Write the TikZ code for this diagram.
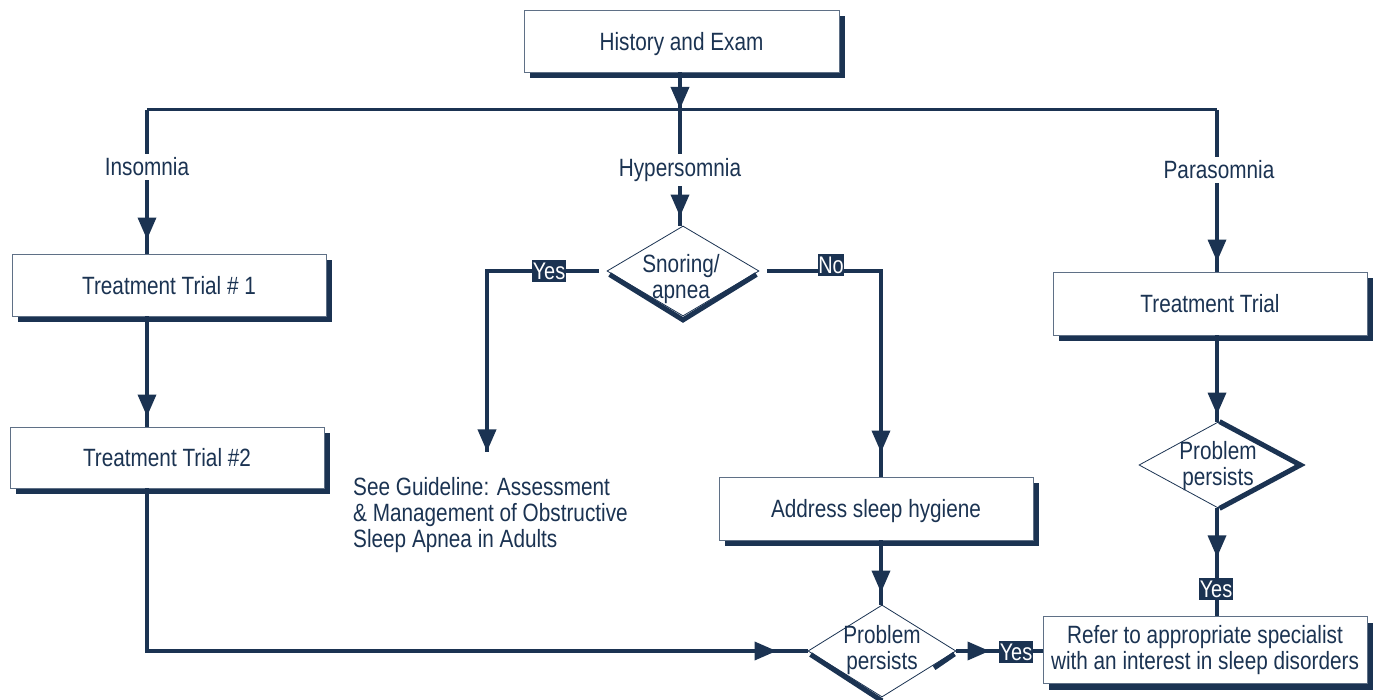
\documentclass[tikz,border=0pt]{standalone}
\usepackage{fontspec}
\setmainfont{Liberation Sans}[FakeStretch=0.83]
\usetikzlibrary{arrows.meta,decorations.markings,shapes.geometric,shadows,calc}
\definecolor{navy}{RGB}{27,51,82}
\begin{document}
\begin{tikzpicture}[x=1pt,y=-1pt,
  font=\fontsize{25}{26}\selectfont, text=navy,
  box/.style={draw=navy!70, line width=0.9pt, fill=white, minimum width=314pt,
    minimum height=62pt, inner sep=0pt, align=center,
    drop shadow={shadow xshift=6pt, shadow yshift=-6pt, fill=navy, opacity=1}},
  onel/.style={text height=21pt, text depth=2pt},
  dia/.style={diamond, draw=navy, line width=0.8pt, fill=white, inner sep=0pt},
  dtext/.style={align=center, inner sep=0pt},
  dshadow/.style={draw=navy, line width=5pt},
  conn/.style={draw=navy, color=navy, line width=3.5pt},
  tip/.style={postaction={decorate,decoration={markings,
    mark=at position #1 with {\arrow{Triangle[length=22pt,width=18pt]}}}}},
  lab/.style={fill=white, inner xsep=3pt, inner ysep=4pt},
  yn/.style={fill=navy, text=white, inner xsep=0.5pt, inner ysep=2.5pt,
    font=\fontsize{24}{24}\selectfont}
]
\fill[white] (0,0) rectangle (1377,700);
\useasboundingbox (0,0) rectangle (1377,700);

% boxes
\node[box, onel, minimum width=315pt] (hist) at (681.5,41) {History and Exam};
\node[box, onel] (tt1) at (169,285) {Treatment Trial \# 1};
\node[box, onel, minimum height=61pt] (tt2) at (167,457.5) {Treatment Trial \#2};
\node[box, onel, minimum height=63pt] (hyg) at (876,508.5) {Address sleep hygiene};
\node[box, onel, minimum height=63pt] (tt) at (1210,303.5) {Treatment Trial};
\node[box, minimum width=324pt, minimum height=67pt] (ref) at (1205,650)
  {Refer to appropriate specialist\\with an interest in sleep disorders};

% diamonds
\node[dia, minimum width=152pt, minimum height=90pt] (snore) at (683,271) {};
\draw[dshadow] ([shift={(3,3.5)}]snore.west) -- ([shift={(0,3.5)}]snore.south)
  -- ([shift={(-3,3.5)}]snore.east);
\node[dtext] (snoretxt) at (681,279) {Snoring/\\apnea};

\node[dia, minimum width=148pt, minimum height=92pt] (pp) at (882,651) {};
\draw[dshadow] ([shift={(3,3.5)}]pp.west) -- ([shift={(0,3.5)}]pp.south);
\draw[dshadow] ([shift={(-2,3)}]pp.east) -- ($(pp.east)!0.3!(pp.south)+(0,3)$);
\node[dtext] (pptxt) at (882,650) {Problem\\persists};

\node[dia, minimum width=158pt, minimum height=86pt] (pr) at (1218,465) {};
\draw[dshadow] ([shift={(1.5,0)}]pr.north) -- ([shift={(3,0)}]pr.east)
  -- ([shift={(1.5,0)}]pr.south);
\node[dtext] (prtxt) at (1218,466) {Problem\\persists};

% junctions
\coordinate (jL) at (147,110);
\coordinate (jM) at (680,110);
\coordinate (jR) at (1217,110);
\coordinate (yesC) at (487,271);
\coordinate (yesE) at (487,452);
\coordinate (noC) at (881,271);

% connectors
\draw[conn, line width=3pt] (jL) -- (jR);
\draw[conn, tip=-1pt] (hist.south -| jM) -- (jM);
\draw[conn, tip=-14pt] (jL) -- (jL |- tt1.north);
\draw[conn, tip=-10pt] (jL |- tt1.south) -- (jL |- tt2.north);
\draw[conn, tip=-31pt] (jL |- tt2.south) -- (jL |- pp.west) -- (pp.west);
\draw[conn, tip=-9pt] (jM) -- (jM |- snore.north);
\draw[conn, tip=-0.5pt] ([xshift=-8pt]snore.west) -- (yesC) -- (yesE);
\draw[conn, tip=-24pt] ([xshift=8pt]snore.east) -- (noC) -- (noC |- hyg.north);
\draw[conn, tip=-12pt] (noC |- hyg.south) -- (noC |- pp.north);
\draw[conn, tip=-53pt] (pp.east) -- (pp.east -| ref.west);
\draw[conn, tip=-10pt] (jR) -- (jR |- tt.north);
\draw[conn, tip=-7pt] (jR |- tt.south) -- (jR |- pr.north);
\draw[conn, tip=49pt] (jR |- pr.south) -- (jR |- ref.north);

% labels
\node[lab] (insom) at (147,167) {Insomnia};
\node[lab] (hyper) at (680,170) {Hypersomnia};
\node[lab] (para) at (1219,170) {Parasomnia};
\node[yn] (yes1) at (549,271) {Yes};
\node[yn] (no1) at (831,265) {No};
\node[yn] (yes2) at (1016,652) {Yes};
\node[yn] (yes3) at (1216,589) {Yes};

\node[anchor=north west, align=left, inner sep=0pt] (guide) at (353,477)
  {See Guideline: Assessment\\\& Management of Obstructive\\Sleep Apnea in Adults};
\end{tikzpicture}
\end{document}
